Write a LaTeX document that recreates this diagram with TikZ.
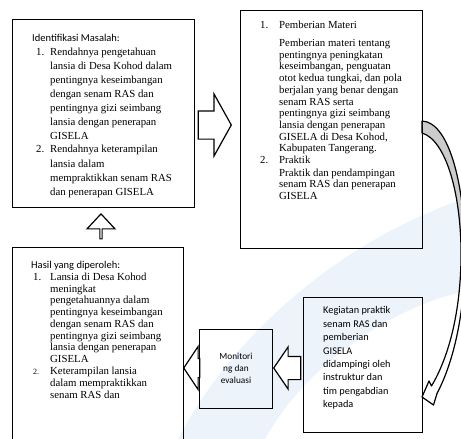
\documentclass[tikz,border=0pt]{standalone}
\usepackage{fontspec}
\setmainfont{Liberation Serif}
\newfontfamily\calfont{Carlito}
\usetikzlibrary{shapes.arrows}
\definecolor{wmblue}{RGB}{237,243,251}

\begin{document}
\begin{tikzpicture}[x=1pt, y=-1pt, every node/.style={inner sep=0pt}]
    \tikzset{
        box/.style={draw, line width=1.3pt, anchor=north west},
        lst/.style={anchor=north west, font=\fontsize{10.8}{11.7}\selectfont},
        sidetxt/.style={font=\calfont\fontsize{10.3}{13.4}\selectfont},
        blk/.style={draw, line width=1.2pt, fill=white, single arrow, inner xsep=0pt, anchor=tip},
        band/.style={line width=1.2pt, line join=round}
    }
    \useasboundingbox (0,0) rectangle (461,439);
    % faint watermark behind
    \fill[wmblue] (178,439) .. controls (235,330) and (345,240) .. (461,200) -- (461,292)
        .. controls (380,312) and (302,372) .. (265,439) -- cycle;
    % curved arrow from materi down to praktik
    \def\crvarrow{(422,121) .. controls (450,122) and (466,190) .. (465,260)
        .. controls (464,320) and (452,365) .. (437,393.5) -- (433.5,405) -- (422,397)
        -- (429,381) -- (431.5,386) .. controls (447,360) and (460,318) .. (461,260)
        .. controls (462,195) and (446,140) .. (422,133) -- cycle}
    \fill[white] \crvarrow;
    \begin{scope}
        \clip (400,100) rectangle (470,228);
        \fill[gray!40] \crvarrow;
    \end{scope}
    \draw[band] \crvarrow;
    % boxes
    \node[box, minimum width=182pt, minimum height=188pt] (masalah) at (12,19) {};
    \node[box, minimum width=182pt, minimum height=238pt] (materi) at (240,10) {};
    \node[box, minimum width=171pt, minimum height=205pt] (hasil) at (12,247) {};
    \node[box, minimum width=73pt, minimum height=79pt] (monev) at (199,329) {};
    \node[box, minimum width=119pt, minimum height=135pt] (praktik) at (303,297) {};
    % block arrows
    \node[blk, minimum height=33pt, minimum width=61pt, inner ysep=13.5pt,
        single arrow head extend=17pt, single arrow tip angle=121.7] (toMateri) at (232,125) {};
    \node[blk, shape border rotate=90, minimum height=25pt, minimum width=28pt, inner ysep=7pt,
        single arrow head extend=7pt, single arrow tip angle=86] (toMasalah) at (101,213) {};
    \node[blk, shape border rotate=180, minimum height=16pt, minimum width=42pt, inner ysep=9pt,
        single arrow head extend=12pt, single arrow tip angle=112.6] (toHasil) at (183,368) {};
    \node[blk, shape border rotate=180, minimum height=27pt, minimum width=41pt, inner ysep=11pt,
        single arrow head extend=9.5pt, single arrow tip angle=111.3] (toMonev) at (273,368) {};
    % texts
    \node[lst, font=\fontsize{10.8}{14}\selectfont] (masalahtxt) at (32,31) {%
        \begin{tabular}{@{\hspace{4pt}}p{14pt}@{}l@{}}
        \multicolumn{2}{@{}l@{}}{\calfont\fontsize{10.5}{14}\selectfont Identifikasi Masalah:}\\
        1. & Rendahnya pengetahuan\\
           & lansia di Desa Kohod dalam\\
           & pentingnya keseimbangan\\
           & dengan senam RAS dan\\
           & pentingnya gizi seimbang\\
           & lansia dengan penerapan\\
           & GISELA\\
        2. & Rendahnya keterampilan\\
           & lansia dalam\\
           & mempraktikkan senam RAS\\
           & dan penerapan GISELA
        \end{tabular}};
    \node[lst] (materitxt) at (260,20.5) {%
        \begin{tabular}{@{}p{19pt}@{}l@{}}
        1. & Pemberian Materi\\[6pt]
           & Pemberian materi tentang\\
           & pentingnya peningkatan\\
           & keseimbangan, penguatan\\
           & otot kedua tungkai, dan pola\\
           & berjalan yang benar dengan\\
           & senam RAS serta\\
           & pentingnya gizi seimbang\\
           & lansia dengan penerapan\\
           & GISELA di Desa Kohod,\\
           & Kabupaten Tangerang.\\
        2. & Praktik\\[1pt]
           & Praktik dan pendampingan\\
           & senam RAS dan penerapan\\
           & GISELA
        \end{tabular}};
    \node[lst] (hasiltxt) at (31,260.5) {%
        \begin{tabular}{@{\hspace{2pt}}p{17pt}@{}l@{}}
        \multicolumn{2}{@{}l@{}}{\calfont\fontsize{10.5}{11.7}\selectfont Hasil yang diperoleh:}\\
        1. & Lansia di Desa Kohod\\
           & meningkat\\
           & pengetahuannya dalam\\
           & pentingnya keseimbangan\\
           & dengan senam RAS dan\\
           & pentingnya gizi seimbang\\
           & lansia dengan penerapan\\
           & GISELA\\[0.7pt]
        {\fontsize{8}{8}\selectfont 2.} & Keterampilan lansia\\
           & dalam mempraktikkan\\
           & senam RAS dan
        \end{tabular}};
    \node[font=\calfont\fontsize{9.3}{12}\selectfont] (monevtxt) at (236,369) {%
        \begin{tabular}{@{}c@{}}Monitori\\ ng dan\\ evaluasi\end{tabular}};
    \node[sidetxt, anchor=north west] (praktiktxt) at (323,304.3) {%
        \begin{tabular}{@{}l@{}}
        Kegiatan praktik\\
        senam RAS dan\\
        pemberian\\
        GISELA\\
        didampingi oleh\\
        instruktur dan\\
        tim pengabdian\\
        kepada
        \end{tabular}};
\end{tikzpicture}
\end{document}
